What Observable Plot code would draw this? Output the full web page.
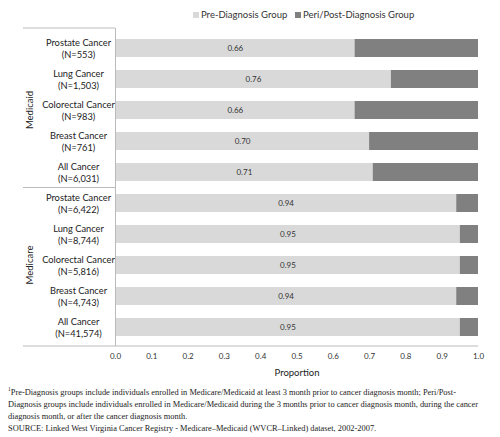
<!DOCTYPE html>
<html><head><meta charset="utf-8">
<script src="https://cdn.jsdelivr.net/npm/d3@7"></script>
<script src="https://cdn.jsdelivr.net/npm/@observablehq/plot@0.6"></script>
<style>
body{margin:0;background:#fff;width:500px;height:437px;overflow:hidden;font-family:Lato,"Open Sans",sans-serif;}
#legend{height:22px;position:relative;font-size:9.5px;color:#333;}
#legend .item{position:absolute;top:9px;display:flex;align-items:center;white-space:nowrap;}
#legend .sw{width:6px;height:6px;margin-right:2px;}
#chart svg{display:block;}
#note{margin:7px 0 0 8px;font-family:"Liberation Serif","DejaVu Serif",serif;font-size:8.4px;line-height:12px;color:#222;white-space:nowrap;}
#note sup{font-size:5.5px;vertical-align:4px;line-height:0;}
</style></head>
<body>
<div id="legend"></div>
<div id="chart"></div>
<div id="note"><sup>1</sup>Pre-Diagnosis groups include individuals enrolled in Medicare/Medicaid at least 3 month prior to cancer diagnosis month; Peri/Post-<br>Diagnosis groups include individuals enrolled in Medicare/Medicaid during the 3 months prior to cancer diagnosis month, during the cancer<br>diagnosis month, or after the cancer diagnosis month.<br>SOURCE: Linked West Virginia Cancer Registry - Medicare–Medicaid (WVCR–Linked) dataset, 2002-2007.</div>
<script>
const programs = ["Medicaid", "Medicare"];
const cancers = ["Prostate Cancer", "Lung Cancer", "Colorectal Cancer", "Breast Cancer", "All Cancer"];
const medicaidN = ["553", "1,503", "983", "761", "6,031"];
const medicareN = ["6,422", "8,744", "5,816", "4,743", "41,574"];
const medicaidPre = [0.66, 0.76, 0.66, 0.70, 0.71];
const medicarePre = [0.94, 0.95, 0.95, 0.94, 0.95];
const seriesNames = ["Pre-Diagnosis Group", "Peri/Post-Diagnosis Group"];
const seriesColors = ["#d9d9d9", "#808080"];
const xTicks = [0, 0.1, 0.2, 0.3, 0.4, 0.5, 0.6, 0.7, 0.8, 0.9, 1.0];

const rows = [];
programs.forEach((p, pi) => {
  const Ns = pi === 0 ? medicaidN : medicareN;
  const pre = pi === 0 ? medicaidPre : medicarePre;
  cancers.forEach((c, i) => {
    rows.push({program: p, cat: `${c}\n(N=${Ns[i]})`, pre: pre[i]});
  });
});
const cats = rows.map(d => d.cat);
const long = rows.flatMap(d => [
  {cat: d.cat, series: seriesNames[0], value: d.pre},
  {cat: d.cat, series: seriesNames[1], value: +(1 - d.pre).toFixed(2)}
]);

// legend
const leg = document.getElementById("legend");
[193, 295].forEach((left, i) => {
  const it = document.createElement("div");
  it.className = "item"; it.style.left = left + "px";
  it.innerHTML = `<span class="sw" style="background:${seriesColors[i]}"></span>${seriesNames[i]}`;
  leg.appendChild(it);
});

const H = 358, MT = 6, MB = 34, ML = 115, MR = 22;
const plot = Plot.plot({
  width: 500, height: H,
  marginLeft: ML, marginRight: MR, marginTop: MT, marginBottom: MB,
  style: {fontFamily: "Lato, 'Open Sans', sans-serif", fontSize: "8px", color: "#333"},
  x: {domain: [0, 1], ticks: xTicks, tickFormat: ".1f", tickSize: 0, tickPadding: 7, label: "Proportion", labelAnchor: "center", labelOffset: 29, labelArrow: "none"},
  y: {domain: cats, paddingInner: 0.43, paddingOuter: 0.215, axis: null},
  color: {domain: seriesNames, range: seriesColors},
  marks: [
    Plot.barX(long, Plot.stackX({y: "cat", x: "value", fill: "series", order: seriesNames})),
    Plot.text(rows, {x: d => d.pre / 2, y: "cat", text: d => d.pre.toFixed(2), fontSize: 8, fill: "#333"}),
    Plot.text(rows, {x: 0, y: "cat", text: "cat", textAnchor: "middle", dx: -37, fontSize: 9.3, fill: "#222", lineHeight: 1.3}),
    Plot.ruleX([0], {stroke: "#bbb"})
  ]
});
document.getElementById("chart").appendChild(plot);

// larger axis title
d3.select(plot).selectAll('[aria-label="x-axis label"] text').attr("font-size", 9.5).attr("fill", "#222");

// separators and group labels using the plot's own scales
const ys = plot.scale("y");
const svg = d3.select(plot);
const lineLeft = 23;
const yPos = c => ys.apply(c);
const g = svg.append("g");
const firstCare = rows.findIndex(d => d.program === "Medicare");
const midSep = (yPos(cats[firstCare - 1]) + yPos(cats[firstCare]) + ys.bandwidth) / 2;
[[MT, ML], [midSep, ML], [H - MB, 500 - MR]].forEach(([y, x2]) => {
  g.append("line").attr("x1", lineLeft).attr("x2", x2).attr("y1", y).attr("y2", y).attr("stroke", "#bbb");
});
programs.forEach(p => {
  const rs = rows.filter(d => d.program === p);
  const cy = (yPos(rs[0].cat) + yPos(rs[rs.length - 1].cat) + ys.bandwidth) / 2;
  g.append("text").attr("transform", `translate(33,${cy}) rotate(-90)`).attr("text-anchor", "middle")
    .attr("font-size", 9.5).attr("fill", "#222").text(p);
});
</script>
</body></html>
